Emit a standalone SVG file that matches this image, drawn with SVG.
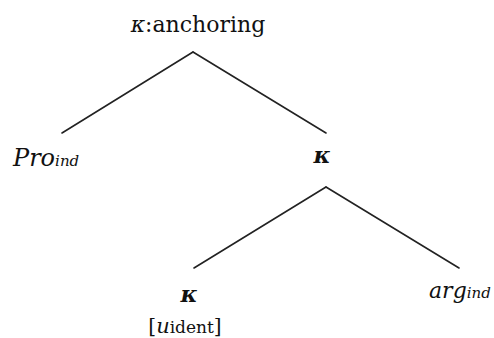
<svg xmlns="http://www.w3.org/2000/svg" width="494" height="338" viewBox="0 0 494 338">
<style>
.t{font-family:'DejaVu Serif',serif;fill:#111}
.main{font-size:22px}
.it{font-style:italic}
.k{font-style:italic;font-weight:bold;font-size:23px}
.sub{font-size:15px;font-style:italic}
.e{stroke:#222;stroke-width:1.6;fill:none;stroke-linecap:round}
</style>
<rect width="494" height="338" fill="#fff"/>
<g id="connectors">
<line class="e" x1="193" y1="52" x2="62" y2="133"/>
<line class="e" x1="193" y1="52" x2="326" y2="133"/>
<line class="e" x1="326" y1="187" x2="194" y2="268"/>
<line class="e" x1="326" y1="187" x2="459" y2="268"/>
</g>
<g id="root">
<text class="t main" x="198" y="32" text-anchor="middle"><tspan font-style="italic">κ</tspan>:anchoring</text>
</g>
<g id="pro">
<text class="t" x="13" y="166"><tspan class="it" font-size="24">Pro</tspan><tspan class="sub" font-size="16">ind</tspan></text>
</g>
<g id="kappa1">
<text class="t k" x="322" y="163" text-anchor="middle">κ</text>
</g>
<g id="kappa2">
<text class="t k" x="189" y="302" text-anchor="middle">κ</text>
<text class="t" x="185" y="333" text-anchor="middle" font-size="20">[<tspan font-style="italic" font-size="21">u</tspan><tspan font-size="17">ident</tspan>]</text>
</g>
<g id="arg">
<text class="t" x="429" y="298"><tspan class="it" font-size="22">arg</tspan><tspan class="sub">ind</tspan></text>
</g>
</svg>
